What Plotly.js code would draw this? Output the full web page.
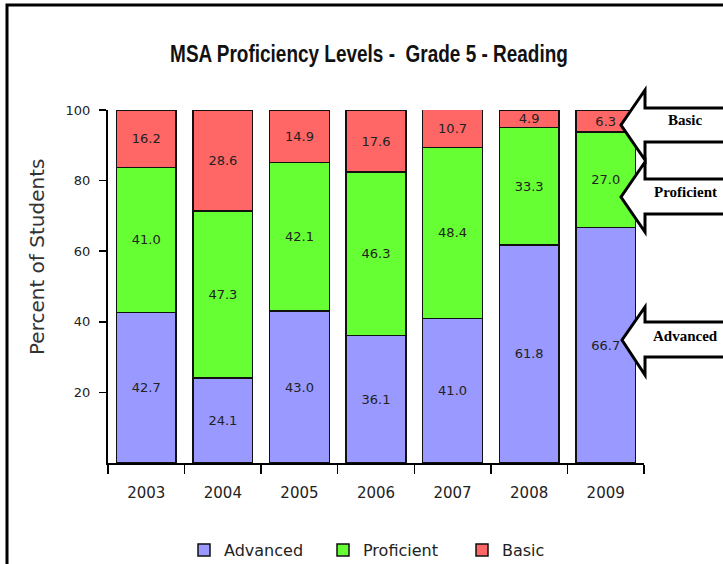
<!DOCTYPE html>
<html>
<head>
<meta charset="utf-8">
<script src="https://cdn.plot.ly/plotly-3.0.1.min.js"></script>
<style>html,body{margin:0;padding:0;background:#fff;}#chart{width:723px;height:564px;}</style>
</head>
<body>
<div id="chart"></div>
<script>
// Data
var years = ['2003', '2004', '2005', '2006', '2007', '2008', '2009'];
var advanced = [42.7, 24.1, 43.0, 36.1, 41.0, 61.8, 66.7];
var proficient = [41.0, 47.3, 42.1, 46.3, 48.4, 33.3, 27.0];
var basic = [16.2, 28.6, 14.9, 17.6, 10.7, 4.9, 6.3];
var seriesNames = ['Advanced', 'Proficient', 'Basic'];
var yTicks = [20, 40, 60, 80, 100];
var calloutLabels = ['Basic', 'Proficient', 'Advanced'];

// Geometry (pixels)
var W = 723, H = 564;
var L = 108, R = 644, T = 110, B = 463;
function px(x) { return (x - L) / (R - L); }
function py(y) { return (B - y) / (B - T); }
function arrowPath(pts) {
  return pts.map(function (p, i) { return (i ? 'L' : 'M') + px(p[0]) + ',' + py(p[1]); }).join(' ') + ' Z';
}

var colors = ['#9999ff', '#66ff33', '#ff6666'];
var values = [advanced, proficient, basic];
var barTextFont = { family: 'DejaVu Sans, Verdana, sans-serif', size: 13, color: '#222' };

var traces = values.map(function (v, i) {
  return {
    type: 'bar', x: years, y: v, name: seriesNames[i],
    marker: { color: colors[i], line: { color: '#111', width: 1.5 } },
    text: v.map(function (d) { return d.toFixed(1); }),
    textposition: 'inside', insidetextanchor: 'middle', textangle: 0,
    constraintext: 'none',
    textfont: barTextFont, insidetextfont: barTextFont,
    hoverinfo: 'x+y+name'
  };
});

var arrowStyle = { color: '#000', width: 3 };
var arrows = [
  [[745,108],[645,108],[645,90],[621,125],[645,160],[645,142],[745,142]],
  [[745,179],[645,179],[645,162],[621,197],[645,232],[645,214],[745,214]],
  [[745,322],[645,322],[645,307],[622,340],[645,375],[645,357],[745,357]]
];
var shapes = arrows.map(function (a) {
  return { type: 'path', xref: 'paper', yref: 'paper', path: arrowPath(a),
           fillcolor: '#fff', line: arrowStyle, layer: 'above' };
});
shapes.unshift({ type: 'rect', xref: 'paper', yref: 'paper',
  x0: px(7), x1: px(760), y0: py(5), y1: py(600),
  line: { color: '#000', width: 3 }, fillcolor: 'rgba(0,0,0,0)', layer: 'above' });

var calloutY = [120, 192, 336];
var annotations = calloutLabels.map(function (t, i) {
  return { text: '<b>' + t + '</b>', xref: 'paper', yref: 'paper',
    x: px(685), y: py(calloutY[i]), xanchor: 'center', yanchor: 'middle', showarrow: false,
    font: { family: 'Liberation Serif, Times New Roman, serif', size: 15, color: '#000' } };
});
annotations.push({ text: 'Percent of Students', xref: 'paper', yref: 'paper',
  x: px(37), y: py(257), xanchor: 'center', yanchor: 'middle', showarrow: false, textangle: -90,
  font: { family: 'DejaVu Sans, Verdana, sans-serif', size: 20, color: '#333' } });

var layout = {
  width: W, height: H,
  margin: { l: L, r: W - R, t: T, b: H - B, pad: 0 },
  paper_bgcolor: '#fff', plot_bgcolor: '#fff',
  barmode: 'stack', bargap: 0.22,
  showlegend: true,
  title: { text: 'MSA Proficiency Levels -  Grade 5 - Reading', xref: 'container', yref: 'container',
    x: 369 / W, y: 1 - 54 / H, xanchor: 'center', yanchor: 'middle',
    font: { family: 'Liberation Sans Narrow, Arial Narrow, Liberation Sans, sans-serif', size: 24, color: '#111', weight: 'bold' } },
  xaxis: {
    type: 'category', showline: true, linecolor: '#000', linewidth: 2,
    ticks: 'outside', tickson: 'boundaries', ticklen: 9, tickcolor: '#000', tickwidth: 1.5,
    ticklabelstandoff: 15,
    tickfont: { family: 'DejaVu Sans, Verdana, sans-serif', size: 15, color: '#222' },
    showgrid: false, zeroline: false, fixedrange: true
  },
  yaxis: {
    range: [0, 100], tickvals: yTicks, ticktext: yTicks.map(String),
    showline: true, linecolor: '#000', linewidth: 2,
    ticks: 'outside', ticklen: 7, tickcolor: '#000', tickwidth: 1.5,
    ticklabelstandoff: 6,
    tickfont: { family: 'DejaVu Sans, Verdana, sans-serif', size: 13, color: '#222' },
    showgrid: false, zeroline: false, fixedrange: true
  },
  legend: { orientation: 'h', xref: 'container', yref: 'container',
    x: 184 / W, y: 1 - 550 / H, xanchor: 'left', yanchor: 'middle',
    traceorder: 'normal', entrywidth: 94, itemwidth: 30,
    font: { family: 'DejaVu Sans, Verdana, sans-serif', size: 16, color: '#222' } },
  shapes: shapes,
  annotations: annotations
};

Plotly.newPlot('chart', traces, layout, { displayModeBar: false, staticPlot: true }).then(function (gd) {
  // narrow the title horizontally (condensed look)
  var el = gd.querySelector('.g-gtitle text');
  if (el) {
    var bb = el.getBBox();
    var sx = 398 / bb.width;
    var cx = bb.x + bb.width / 2;
    var prev = el.getAttribute('transform') || '';
    el.setAttribute('transform', 'matrix(' + sx + ',0,0,1,' + (cx * (1 - sx)) + ',0) ' + prev);
  }
});
</script>
</body>
</html>
